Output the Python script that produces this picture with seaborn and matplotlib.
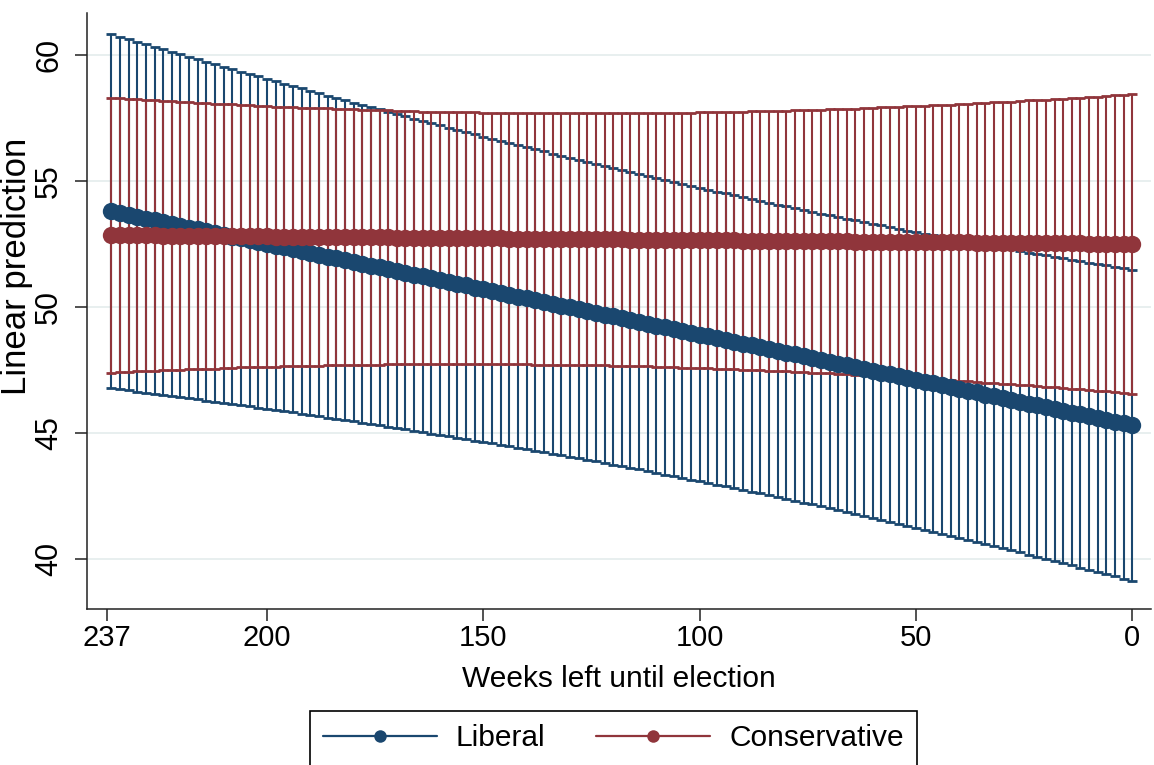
import numpy as np
import pandas as pd
import matplotlib
matplotlib.use("Agg")
import matplotlib.pyplot as plt
from matplotlib.lines import Line2D
import seaborn as sns

# ---- data ----
weeks = [0, 2, 4, 6, 8, 10, 12, 14, 16, 18, 20, 22, 24, 26, 28, 30, 32, 34, 36, 38,
         40, 42, 44, 46, 48, 50, 52, 54, 56, 58, 60, 62, 64, 66, 68, 70, 72, 74, 76, 78,
         80, 82, 84, 86, 88, 90, 92, 94, 96, 98, 100, 102, 104, 106, 108, 110, 112, 114, 116, 118,
         120, 122, 124, 126, 128, 130, 132, 134, 136, 138, 140, 142, 144, 146, 148, 150, 152, 154, 156, 158,
         160, 162, 164, 166, 168, 170, 172, 174, 176, 178, 180, 182, 184, 186, 188, 190, 192, 194, 196, 198,
         200, 202, 204, 206, 208, 210, 212, 214, 216, 218, 220, 222, 224, 226, 228, 230, 232, 234, 236]

liberal_mean = [45.30, 45.37, 45.44, 45.52, 45.59, 45.66, 45.73, 45.80, 45.88, 45.95,
                46.02, 46.09, 46.16, 46.24, 46.31, 46.38, 46.45, 46.52, 46.60, 46.67,
                46.74, 46.81, 46.88, 46.96, 47.03, 47.10, 47.17, 47.24, 47.32, 47.39,
                47.46, 47.53, 47.61, 47.68, 47.75, 47.82, 47.89, 47.97, 48.04, 48.11,
                48.18, 48.25, 48.33, 48.40, 48.47, 48.54, 48.61, 48.69, 48.76, 48.83,
                48.90, 48.97, 49.05, 49.12, 49.19, 49.26, 49.33, 49.41, 49.48, 49.55,
                49.62, 49.69, 49.77, 49.84, 49.91, 49.98, 50.05, 50.13, 50.20, 50.27,
                50.34, 50.41, 50.49, 50.56, 50.63, 50.70, 50.77, 50.85, 50.92, 50.99,
                51.06, 51.13, 51.21, 51.28, 51.35, 51.42, 51.49, 51.57, 51.64, 51.71,
                51.78, 51.86, 51.93, 52.00, 52.07, 52.14, 52.22, 52.29, 52.36, 52.43,
                52.50, 52.58, 52.65, 52.72, 52.79, 52.86, 52.94, 53.01, 53.08, 53.15,
                53.22, 53.30, 53.37, 53.44, 53.51, 53.58, 53.66, 53.73, 53.80]

liberal_ci = [6.180, 6.163, 6.146, 6.130, 6.113, 6.098, 6.082, 6.067, 6.053, 6.038,
              6.025, 6.011, 5.998, 5.986, 5.974, 5.962, 5.951, 5.940, 5.929, 5.919,
              5.910, 5.901, 5.892, 5.883, 5.876, 5.868, 5.861, 5.855, 5.849, 5.843,
              5.838, 5.833, 5.829, 5.825, 5.821, 5.818, 5.816, 5.814, 5.812, 5.811,
              5.811, 5.810, 5.811, 5.811, 5.812, 5.814, 5.816, 5.818, 5.821, 5.825,
              5.829, 5.833, 5.838, 5.843, 5.849, 5.855, 5.861, 5.868, 5.876, 5.883,
              5.892, 5.901, 5.910, 5.919, 5.929, 5.940, 5.951, 5.962, 5.974, 5.986,
              5.998, 6.011, 6.025, 6.038, 6.053, 6.067, 6.082, 6.098, 6.113, 6.130,
              6.146, 6.163, 6.180, 6.198, 6.216, 6.235, 6.253, 6.273, 6.292, 6.312,
              6.332, 6.353, 6.374, 6.395, 6.417, 6.439, 6.461, 6.484, 6.507, 6.530,
              6.554, 6.578, 6.602, 6.626, 6.651, 6.676, 6.702, 6.728, 6.754, 6.780,
              6.807, 6.833, 6.861, 6.888, 6.916, 6.944, 6.972, 7.001, 7.029]

conservative_mean = [52.50, 52.50, 52.51, 52.51, 52.51, 52.51, 52.52, 52.52, 52.52, 52.53,
                     52.53, 52.53, 52.54, 52.54, 52.54, 52.54, 52.55, 52.55, 52.55, 52.56,
                     52.56, 52.56, 52.57, 52.57, 52.57, 52.57, 52.58, 52.58, 52.58, 52.59,
                     52.59, 52.59, 52.59, 52.60, 52.60, 52.60, 52.61, 52.61, 52.61, 52.62,
                     52.62, 52.62, 52.62, 52.63, 52.63, 52.63, 52.64, 52.64, 52.64, 52.65,
                     52.65, 52.65, 52.65, 52.66, 52.66, 52.66, 52.67, 52.67, 52.67, 52.68,
                     52.68, 52.68, 52.68, 52.69, 52.69, 52.69, 52.70, 52.70, 52.70, 52.70,
                     52.71, 52.71, 52.71, 52.72, 52.72, 52.72, 52.73, 52.73, 52.73, 52.73,
                     52.74, 52.74, 52.74, 52.75, 52.75, 52.75, 52.76, 52.76, 52.76, 52.76,
                     52.77, 52.77, 52.77, 52.78, 52.78, 52.78, 52.78, 52.79, 52.79, 52.79,
                     52.80, 52.80, 52.80, 52.81, 52.81, 52.81, 52.81, 52.82, 52.82, 52.82,
                     52.83, 52.83, 52.83, 52.84, 52.84, 52.84, 52.84, 52.85, 52.85]

conservative_ci = [5.940, 5.915, 5.891, 5.867, 5.843, 5.819, 5.795, 5.772, 5.749, 5.726,
                   5.704, 5.682, 5.660, 5.638, 5.617, 5.596, 5.575, 5.555, 5.535, 5.515,
                   5.495, 5.476, 5.457, 5.439, 5.421, 5.403, 5.386, 5.368, 5.352, 5.335,
                   5.319, 5.303, 5.288, 5.273, 5.258, 5.244, 5.230, 5.216, 5.203, 5.190,
                   5.178, 5.166, 5.154, 5.142, 5.132, 5.121, 5.111, 5.101, 5.092, 5.083,
                   5.074, 5.066, 5.058, 5.051, 5.044, 5.038, 5.031, 5.026, 5.020, 5.016,
                   5.011, 5.007, 5.004, 5.000, 4.998, 4.995, 4.993, 4.992, 4.991, 4.990,
                   4.990,
                   4.990, 4.991, 4.992, 4.993, 4.995, 4.998, 5.000, 5.004, 5.007, 5.011,
                   5.016, 5.020, 5.026, 5.031, 5.038, 5.044, 5.051, 5.058, 5.066, 5.074,
                   5.083, 5.092, 5.101, 5.111, 5.121, 5.132, 5.142, 5.154, 5.166, 5.178,
                   5.190, 5.203, 5.216, 5.230, 5.244, 5.258, 5.273, 5.288, 5.303, 5.319,
                   5.335, 5.352, 5.368, 5.386, 5.403, 5.421, 5.439, 5.457]

series_names = ["Liberal", "Conservative"]
x_ticks = [237, 200, 150, 100, 50, 0]
y_ticks = [40, 45, 50, 55, 60]
x_title = "Weeks left until election"
y_title = "Linear prediction"

# ---- style ----
sns.set_theme(style="white")
plt.rcParams["font.family"] = ["Liberation Sans", "DejaVu Sans"]

colors = {"Liberal": "#1a476f", "Conservative": "#90353b"}

df = pd.concat([
    pd.DataFrame({"weeks": weeks, "pred": liberal_mean, "ci": liberal_ci, "party": "Liberal"}),
    pd.DataFrame({"weeks": weeks, "pred": conservative_mean, "ci": conservative_ci, "party": "Conservative"}),
], ignore_index=True)

fig = plt.figure(figsize=(11.54, 7.65), dpi=100)
ax = fig.add_axes([0.0754, 0.2039, 0.922, 0.779])

# gridlines
for yv in y_ticks:
    ax.axhline(yv, color="#e6eeee", lw=1.3, zorder=0)

# confidence intervals (capped spikes)
for i, name in enumerate(series_names):
    sub = df[df["party"] == name]
    ax.errorbar(sub["weeks"], sub["pred"], yerr=sub["ci"], fmt="none",
                ecolor=colors[name], elinewidth=1.5, capsize=3.4, capthick=2.0,
                zorder=2 + i)

# prediction lines with markers
sns.lineplot(data=df, x="weeks", y="pred", hue="party", hue_order=series_names,
             palette=colors, marker="o", markersize=12.5, markeredgewidth=0,
             linewidth=2, legend=False, ax=ax, zorder=5, estimator=None, sort=True)

ax.set_xlim(241.6, -4.3)
ax.set_ylim(38.0, 61.67)
ax.set_xticks(x_ticks)
ax.set_xticklabels([str(t) for t in x_ticks], fontsize=21)
ax.set_yticks(y_ticks)
ax.set_yticklabels([str(t) for t in y_ticks], fontsize=22, rotation=90, va="center")

ax.tick_params(axis="x", direction="out", length=8.5, width=1.1, color="#222222",
               pad=2, bottom=True, labelcolor="black")
ax.tick_params(axis="y", direction="out", length=8.5, width=1.1, color="#222222",
               pad=8, left=True, labelcolor="black")

for s in ["top", "right"]:
    ax.spines[s].set_visible(False)
for s in ["left", "bottom"]:
    ax.spines[s].set_color("#222222")
    ax.spines[s].set_linewidth(1.1)

ax.set_xlabel(x_title, fontsize=21.5, labelpad=10, color="black")
ax.set_ylabel(y_title, fontsize=25, labelpad=4, color="black")
ax.yaxis.set_label_coords(-0.051, 0.575)

handles = [Line2D([0], [0], color=colors[n], lw=1.6, marker="o", markersize=9,
                  markeredgewidth=0) for n in series_names]
leg = fig.legend(handles, series_names, loc="upper center",
                 bbox_to_anchor=(0.5316, 1 - 711 / 765), ncol=2, fontsize=21.5,
                 frameon=True, fancybox=False, edgecolor="black", framealpha=1,
                 handlelength=3.8, handletextpad=0.65, columnspacing=1.7,
                 borderpad=0.45, borderaxespad=0)
leg.get_frame().set_linewidth(1.2)
for t in leg.get_texts():
    t.set_color("black")

fig.savefig("out.png", dpi=100, facecolor="white")
